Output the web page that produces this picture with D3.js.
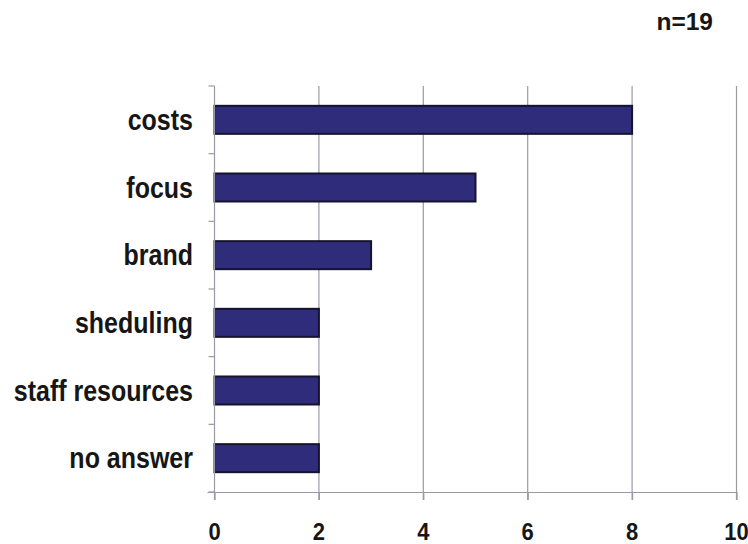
<!DOCTYPE html>
<html>
<head>
<meta charset="utf-8">
<script src="https://cdn.jsdelivr.net/npm/d3@7"></script>
<style>
  html, body { margin: 0; padding: 0; background: #fff; }
  svg { display: block; }
  text { font-family: "Liberation Sans", Arial, Helvetica, sans-serif; font-weight: bold; fill: #161616; }
</style>
</head>
<body>
<svg id="chart" width="748" height="544"></svg>
<script>
// Reasons given (number of respondents)
const categories = ["costs", "focus", "brand", "sheduling", "staff resources", "no answer"];
const counts = [8, 5, 3, 2, 2, 2];
const xTicks = [0, 2, 4, 6, 8, 10];
const sampleNote = "n=19";

const svg = d3.select("#chart");
const plot = { left: 214.5, right: 736.5, top: 86, bottom: 492 };

const x = d3.scaleLinear().domain([0, 10]).range([plot.left, plot.right]);
const y = d3.scaleBand()
  .domain(categories)
  .range([plot.top, plot.bottom])
  .paddingInner(0.586)
  .paddingOuter(0.293);

const gridColor = "#9a9aa6";

// vertical gridlines (extend below the axis as tick marks)
svg.append("g")
  .selectAll("line")
  .data(xTicks.slice(1))
  .join("line")
  .attr("x1", d => x(d)).attr("x2", d => x(d))
  .attr("y1", plot.top).attr("y2", plot.bottom + 8)
  .attr("stroke", gridColor)
  .attr("stroke-width", 1.2);

// bars
svg.append("g")
  .selectAll("rect")
  .data(categories)
  .join("rect")
  .attr("x", x(0))
  .attr("y", d => y(d))
  .attr("width", (d, i) => x(counts[i]) - x(0))
  .attr("height", y.bandwidth())
  .attr("fill", "#302c7c")
  .attr("stroke", "#15132e")
  .attr("stroke-width", 2);

// x axis: line and ticks from d3.axisBottom, labels placed below with a taller face
const xAxis = d3.axisBottom(x)
  .tickValues(xTicks)
  .tickSize(8)
  .tickSizeOuter(0)
  .tickFormat("");
const gx = svg.append("g")
  .attr("transform", `translate(0,${plot.bottom})`)
  .call(xAxis);
gx.select(".domain")
  .attr("d", `M${plot.left - 7},0.5H${plot.right}`)
  .attr("stroke", gridColor).attr("stroke-width", 1.2);
gx.selectAll(".tick line").attr("stroke", gridColor).attr("stroke-width", 1.2);

svg.append("g")
  .selectAll("text")
  .data(xTicks)
  .join("text")
  .attr("transform", d => `translate(${x(d)},540) scale(1,1.08)`)
  .attr("text-anchor", "middle")
  .attr("font-size", 22)
  .text(d => d);

// y axis line with ticks at the category boundaries
const boundaries = d3.range(categories.length + 1).map(i => plot.top + i * y.step());
svg.append("line")
  .attr("x1", plot.left).attr("x2", plot.left)
  .attr("y1", plot.top).attr("y2", plot.bottom + 8)
  .attr("stroke", gridColor).attr("stroke-width", 1.2);
svg.append("g")
  .selectAll("line")
  .data(boundaries)
  .join("line")
  .attr("x1", plot.left - 6).attr("x2", plot.left)
  .attr("y1", d => d).attr("y2", d => d)
  .attr("stroke", gridColor).attr("stroke-width", 1.2);

// category labels
svg.append("g")
  .selectAll("text")
  .data(categories)
  .join("text")
  .attr("transform", d => `translate(193,${y(d) + y.bandwidth() / 2 + 10}) scale(1,1.15)`)
  .attr("text-anchor", "end")
  .attr("font-size", 25)
  .text(d => d);

// sample size note
svg.append("text")
  .attr("transform", "translate(713,30)")
  .attr("text-anchor", "end")
  .attr("font-size", 24.5)
  .text(sampleNote);
</script>
</body>
</html>
